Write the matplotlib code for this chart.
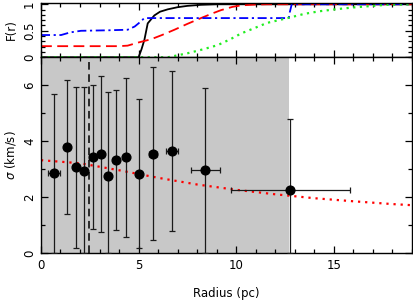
import matplotlib
matplotlib.use("Agg")
import matplotlib.pyplot as plt
from matplotlib.ticker import MultipleLocator

# velocity dispersion profile
radius = [0.68, 1.33, 1.79, 2.20, 2.67, 3.06, 3.45, 3.85, 4.38, 5.01, 5.74, 6.70, 8.43, 12.77]
radius_err = [0.30, 0.0, 0.0, 0.0, 0.0, 0.0, 0.0, 0.0, 0.0, 0.0, 0.22, 0.30, 0.75, 3.05]
sigma = [2.85, 3.79, 3.06, 2.92, 3.43, 3.55, 2.77, 3.32, 3.43, 2.83, 3.55, 3.65, 2.98, 2.24]
sigma_hi = [5.67, 6.18, 5.94, 5.92, 6.02, 6.33, 5.77, 5.82, 6.26, 5.51, 6.65, 6.52, 5.90, 4.81]
sigma_lo = [0.0, 1.41, 0.17, 0.0, 0.85, 0.76, 0.0, 0.83, 0.56, 0.17, 0.46, 0.80, 0.0, 0.0]

# model curve
model_r = [0, 2, 4, 6, 8, 10, 12, 14, 16, 18, 19]
model_sigma = [3.32, 3.21, 2.96, 2.69, 2.45, 2.26, 2.10, 1.96, 1.85, 1.75, 1.71]

shade_edge = 12.73
r_dashed = 2.44

# cumulative distributions (top panel)
black_r = [0, 5.0, 5.15, 5.3, 5.47, 5.81, 6.1, 6.5, 7.0, 7.5, 8.2, 9.06, 19]
black_F = [0, 0, 0.15, 0.33, 0.64, 0.79, 0.86, 0.905, 0.945, 0.97, 0.99, 1.0, 1.0]
red_r = [0, 4.0, 4.44, 5.0, 5.64, 6.2, 6.84, 7.5, 8.2, 8.8, 9.23, 9.8, 10.26, 11.0, 11.6, 19]
red_F = [0.21, 0.21, 0.22, 0.28, 0.34, 0.42, 0.52, 0.63, 0.74, 0.83, 0.89, 0.95, 0.98, 0.995, 1.0, 1.0]
blue_r = [0, 1.03, 1.5, 2.05, 3.5, 4.44, 4.8, 5.0, 5.3, 12.7, 12.75, 12.85, 19]
blue_F = [0.42, 0.42, 0.47, 0.50, 0.51, 0.52, 0.58, 0.64, 0.74, 0.74, 0.85, 1.0, 1.0]
green_r = [0, 6.5, 7.5, 8.3, 9.06, 9.7, 10.26, 11.0, 11.6, 12.75, 13.5, 14.3, 15.2, 16.0, 17.0, 17.7, 19]
green_F = [0, 0, 0.075, 0.15, 0.23, 0.34, 0.45, 0.56, 0.65, 0.75, 0.82, 0.87, 0.91, 0.94, 0.97, 0.99, 1.0]

plt.rcParams['font.family'] = ['DejaVu Sans']
plt.rcParams['font.size'] = 8.5

fig = plt.figure(figsize=(4.14, 3.0), dpi=100)
ax_top = fig.add_axes([0.099, 0.809, 0.8955, 0.182])
ax = fig.add_axes([0.099, 0.1567, 0.8955, 0.6523], sharex=ax_top)

# top panel
ax_top.plot(black_r, black_F, '-', color='black', lw=1.3)
ax_top.plot(red_r, red_F, '--', color='red', lw=1.3, dashes=(6, 3))
ax_top.plot(blue_r, blue_F, '-.', color='blue', lw=1.3, dashes=(5, 2, 1.2, 2))
ax_top.plot(green_r, green_F, ':', color='#22ee22', lw=1.6, dashes=(1, 2))
ax_top.set_ylim(0, 1.03)
ax_top.set_yticks([0, 0.5, 1])
ax_top.set_yticklabels(['0', '0.5', '1'], rotation=90, va='center')
ax_top.yaxis.set_minor_locator(MultipleLocator(0.1))
ax_top.set_ylabel('F(r)', labelpad=4)
ax_top.tick_params(labelbottom=False)

# bottom panel
ax.axvspan(0, shade_edge, color='#c8c8c8', lw=0, zorder=0)
ax.axvline(r_dashed, color='black', ls='--', lw=1.1, dashes=(5, 3))
ax.plot(model_r, model_sigma, ':', color='red', lw=1.6, dashes=(1, 2.2))
yerr = [[s - lo for s, lo in zip(sigma, sigma_lo)],
        [hi - s for s, hi in zip(sigma, sigma_hi)]]
ax.errorbar(radius, sigma, yerr=yerr, xerr=radius_err, fmt='o', color='black',
            ecolor='#1a1a1a', elinewidth=0.9, capsize=2.3, capthick=0.9,
            markersize=6.3, zorder=3)
ax.set_xlim(0, 19)
ax.set_ylim(0, 7)
ax.set_xticks([0, 5, 10, 15])
ax.xaxis.set_minor_locator(MultipleLocator(1))
ax.set_yticks([0, 2, 4, 6])
ax.set_yticklabels(['0', '2', '4', '6'], rotation=90, va='center')
ax.yaxis.set_minor_locator(MultipleLocator(1))
ax.set_xlabel('Radius (pc)', labelpad=11)
ax.set_ylabel(r'$\sigma$ (km/s)', labelpad=4)

for a in (ax_top, ax):
    a.tick_params(which='both', direction='in', top=True, right=True, width=0.9)
    a.tick_params(which='major', length=5)
    a.tick_params(which='minor', length=3)
    for sp in a.spines.values():
        sp.set_linewidth(1.0)
ax.tick_params(axis='x', pad=4)

fig.savefig('out.png', dpi=100)
